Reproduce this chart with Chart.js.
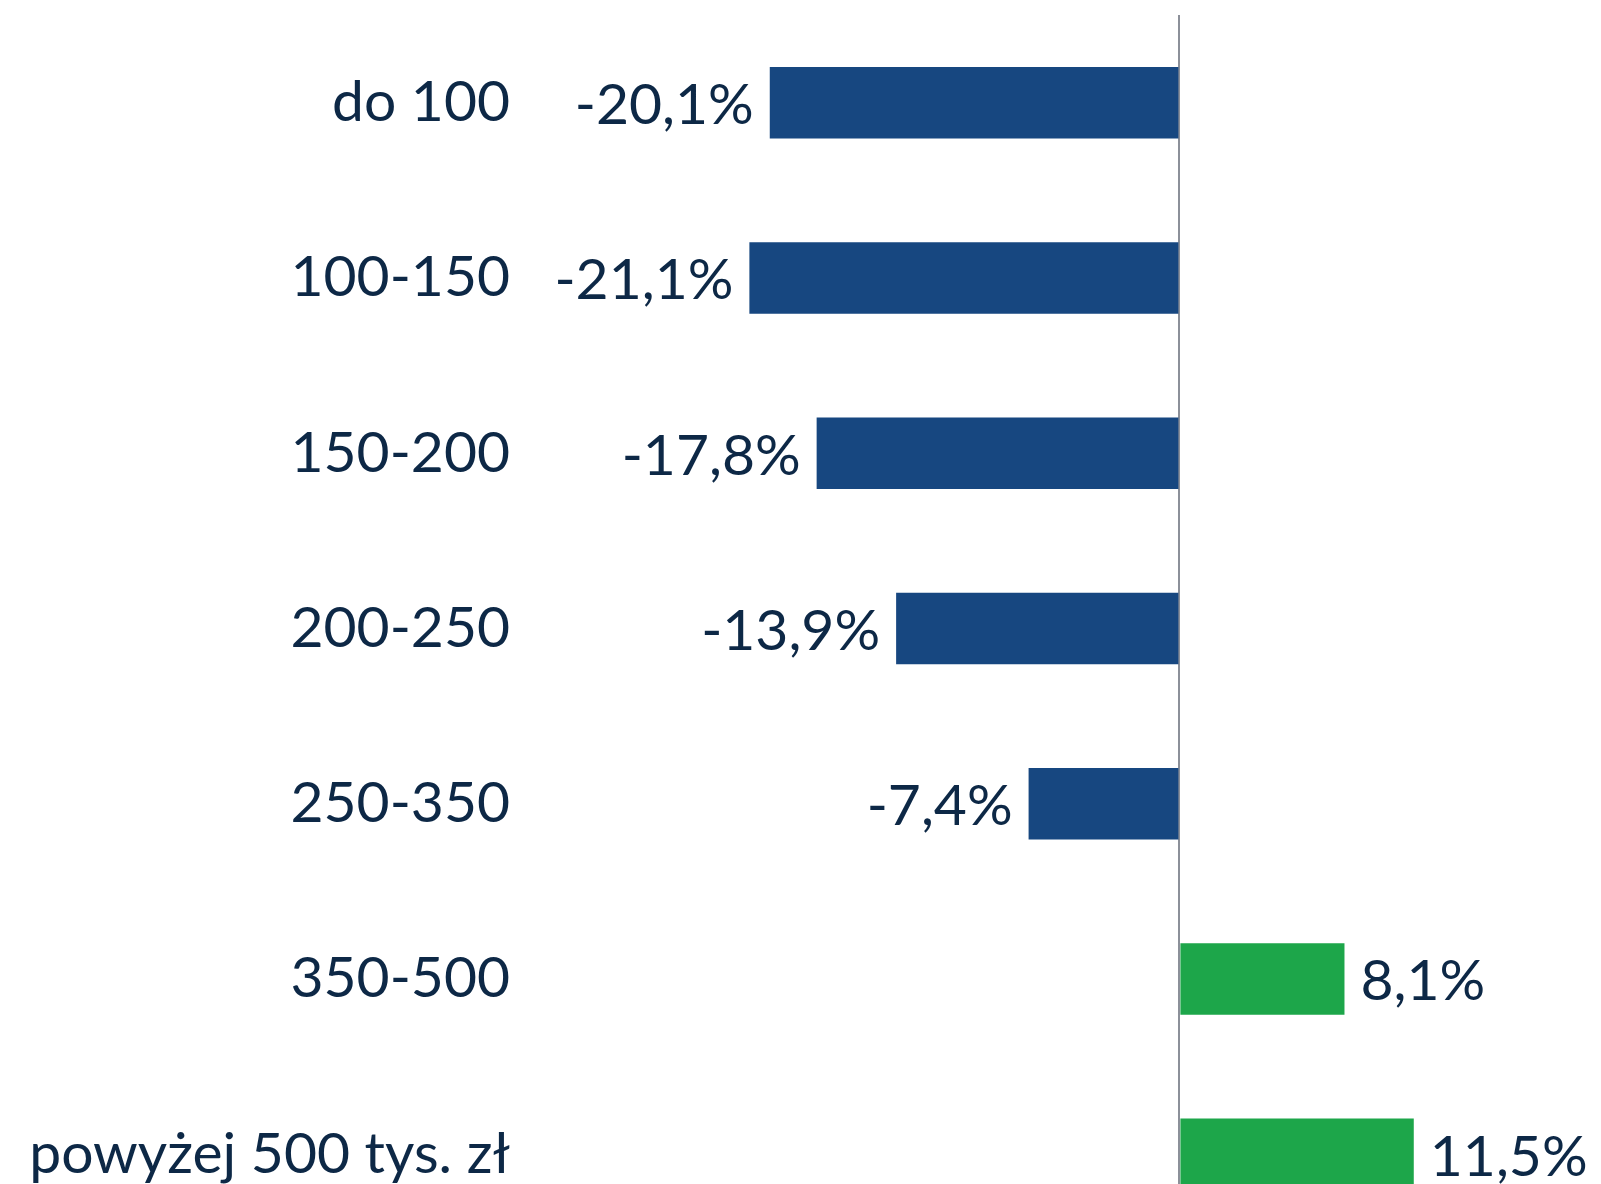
<!DOCTYPE html>
<html>
<head>
<meta charset="utf-8">
<script src="https://cdn.jsdelivr.net/npm/chart.js@4"></script>
<style>
  html, body { margin: 0; padding: 0; background: #ffffff; overflow: hidden; }
  #wrap { position: relative; width: 1601px; height: 1242px; }
</style>
</head>
<body>
<div id="wrap"><canvas id="c"></canvas></div>
<script>
const categories = ['do 100', '100-150', '150-200', '200-250', '250-350', '350-500', 'powyżej 500 tys. zł'];
const changes = [-20.1, -21.1, -17.8, -13.9, -7.4, 8.1, 11.5];

const NEG = '#174780';
const POS = '#1da64a';
const TEXT = '#0d2846';
const FONT = { family: 'Lato, "Noto Sans", sans-serif', size: 57 };

const fmt = v => v.toFixed(1).replace('.', ',') + '%';

const valueLabels = {
  id: 'valueLabels',
  afterDatasetsDraw(chart) {
    const ctx = chart.ctx;
    const meta = chart.getDatasetMeta(0);
    ctx.save();
    ctx.font = `${FONT.size}px ${FONT.family}`;
    ctx.fillStyle = TEXT;
    ctx.textBaseline = 'middle';
    meta.data.forEach((bar, i) => {
      const v = chart.data.datasets[0].data[i];
      if (v < 0) {
        ctx.textAlign = 'right';
        ctx.fillText(fmt(v), bar.x - 16, bar.y + 3);
      } else {
        ctx.textAlign = 'left';
        ctx.fillText(fmt(v), bar.x + 16, bar.y + 3);
      }
    });
    ctx.restore();
  }
};

new Chart(document.getElementById('c'), {
  type: 'bar',
  data: {
    labels: categories,
    datasets: [{
      data: changes,
      backgroundColor: ctx => (ctx.raw < 0 ? NEG : POS),
      borderWidth: 0,
      barPercentage: 0.408,
      categoryPercentage: 1.0
    }]
  },
  options: {
    indexAxis: 'y',
    responsive: true,
    maintainAspectRatio: false,
    animation: false,
    layout: { padding: { top: 15, right: 14, bottom: 0, left: 0 } },
    plugins: { legend: { display: false }, tooltip: { enabled: false } },
    scales: {
      x: {
        min: -30,
        max: 20,
        ticks: { display: false, stepSize: 10 },
        border: { display: false },
        grid: {
          drawTicks: false,
          lineWidth: 2,
          color: ctx => (ctx.tick && ctx.tick.value === 0 ? '#8c9099' : 'rgba(0,0,0,0)')
        },
        afterFit: s => { s.height = 0; s.paddingLeft = 0; s.paddingRight = 0; }
      },
      y: {
        grid: { display: false, drawTicks: false },
        border: { display: false },
        ticks: { color: TEXT, font: FONT, padding: 58 },
        afterFit: s => { s.width = 568; s.paddingTop = 0; s.paddingBottom = 0; }
      }
    }
  },
  plugins: [valueLabels]
});
</script>
</body>
</html>
